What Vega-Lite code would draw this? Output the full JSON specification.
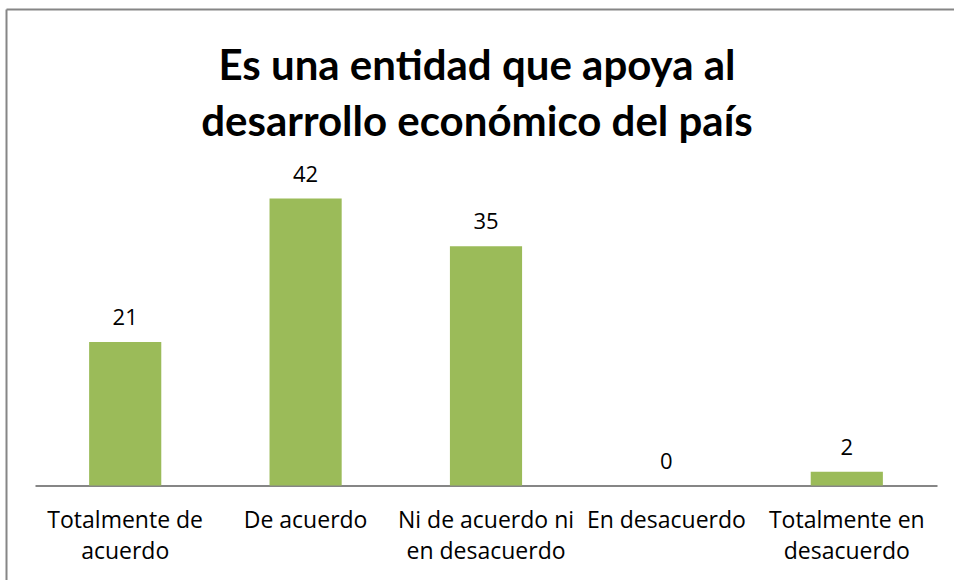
{
  "$schema": "https://vega.github.io/schema/vega-lite/v6.json",
  "width": 948,
  "height": 571,
  "autosize": {"type": "none"},
  "padding": {"left": 6, "top": 9, "right": 0, "bottom": 0},
  "background": "white",
  "config": {"view": {"stroke": null}, "font": "Open Sans", "axis": {"grid": false}},
  "title": {
    "text": ["Es una entidad que apoya al", "desarrollo económico del país"],
    "font": "Lato",
    "fontSize": 42,
    "fontWeight": "bold",
    "color": "#000000",
    "lineHeight": 56,
    "anchor": "middle",
    "frame": "group",
    "offset": -136,
    "dx": -3
  },
  "layer": [
    {
      "data": {
        "values": [
          {"respuesta": "Totalmente de acuerdo", "valor": 21},
          {"respuesta": "De acuerdo", "valor": 42},
          {"respuesta": "Ni de acuerdo ni en desacuerdo", "valor": 35},
          {"respuesta": "En desacuerdo", "valor": 0},
          {"respuesta": "Totalmente en desacuerdo", "valor": 2}
        ]
      },
      "encoding": {
        "x": {
          "field": "respuesta",
          "type": "nominal",
          "sort": null,
          "scale": {"range": [29, 931], "paddingInner": 0.6, "paddingOuter": 0.3},
          "axis": {
            "orient": "bottom",
            "offset": -94.5,
            "title": null,
            "domainColor": "#868686",
            "domainWidth": 2,
            "ticks": false,
            "labelFont": "Open Sans",
            "labelFontSize": 23,
            "labelColor": "#000000",
            "labelPadding": 24,
            "labelLineHeight": 31,
            "labelAngle": 0,
            "labelBaseline": "top",
            "labelLimit": 0,
            "labelOverlap": false,
            "labelExpr": "datum.value == 'Totalmente de acuerdo' ? ['Totalmente de', 'acuerdo'] : datum.value == 'Ni de acuerdo ni en desacuerdo' ? ['Ni de acuerdo ni', 'en desacuerdo'] : datum.value == 'Totalmente en desacuerdo' ? ['Totalmente en', 'desacuerdo'] : datum.label"
          }
        },
        "y": {
          "field": "valor",
          "type": "quantitative",
          "scale": {"domain": [0, 45], "range": [476.5, 169], "nice": false},
          "axis": null
        }
      },
      "layer": [
        {"mark": {"type": "bar", "color": "#9BBB59"}},
        {
          "mark": {"type": "text", "baseline": "alphabetic", "dy": -17, "font": "Open Sans", "fontSize": 22, "color": "#000000"},
          "encoding": {"text": {"field": "valor", "type": "quantitative"}}
        }
      ]
    },
    {
      "data": {"values": [{"bx": 0, "by": 0}]},
      "mark": {"type": "point", "opacity": 0},
      "encoding": {
        "x": {
          "field": "bx",
          "type": "quantitative",
          "scale": {"domain": [0, 1], "nice": false},
          "axis": {"orient": "top", "title": null, "domainColor": "#868686", "domainWidth": 2, "ticks": false, "labels": false, "grid": false}
        },
        "y": {
          "field": "by",
          "type": "quantitative",
          "scale": {"domain": [0, 1], "nice": false},
          "axis": {"orient": "left", "title": null, "domainColor": "#868686", "domainWidth": 2, "ticks": false, "labels": false, "grid": false}
        }
      }
    }
  ],
  "resolve": {
    "scale": {"x": "independent", "y": "independent"},
    "axis": {"x": "independent", "y": "independent"}
  }
}
